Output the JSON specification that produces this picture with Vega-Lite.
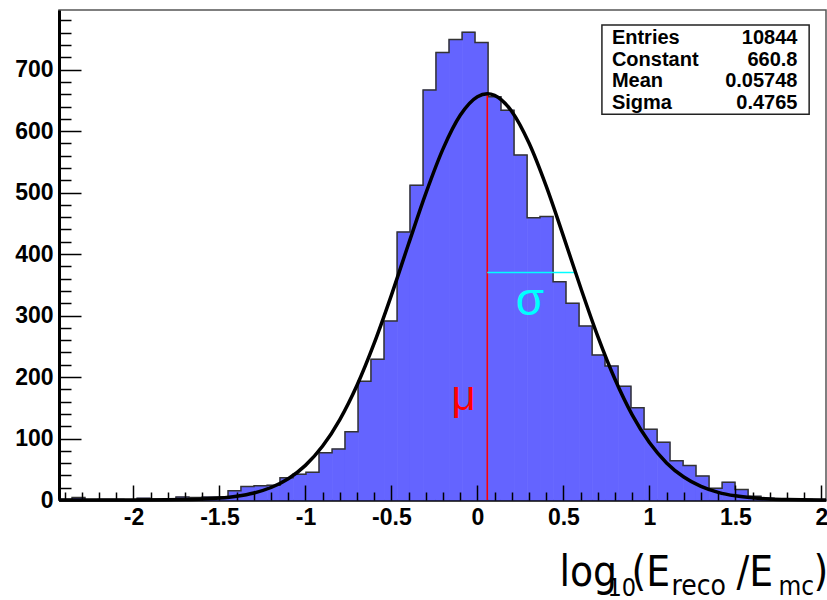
{
  "$schema": "https://vega.github.io/schema/vega-lite/v6.json",
  "width": 767,
  "height": 490,
  "autosize": {"type": "none"},
  "padding": {"left": 59, "top": 10, "right": 1, "bottom": 100},
  "background": "white",
  "config": {
    "view": {"stroke": "#555555", "strokeWidth": 1.5},
    "axis": {"grid": false, "domain": false, "ticks": false, "labels": false, "labelFont": "Liberation Sans", "labelFontWeight": "bold", "labelFontSize": 23, "labelColor": "black", "titleColor": "black", "titleFontWeight": "normal", "titleFont": "Liberation Sans Narrow, DejaVu Sans Condensed, Liberation Sans, sans-serif"}
  },
  "datasets": {
    "bins": [
      {"x0": -2.433, "x1": -2.357, "n": 1},
      {"x0": -2.357, "x1": -2.282, "n": 4},
      {"x0": -2.282, "x1": -2.206, "n": 0},
      {"x0": -2.206, "x1": -2.131, "n": 1},
      {"x0": -2.131, "x1": -2.055, "n": 1},
      {"x0": -2.055, "x1": -1.979, "n": 0},
      {"x0": -1.979, "x1": -1.904, "n": 3},
      {"x0": -1.904, "x1": -1.828, "n": 1},
      {"x0": -1.828, "x1": -1.753, "n": 2},
      {"x0": -1.753, "x1": -1.677, "n": 5},
      {"x0": -1.677, "x1": -1.601, "n": 4},
      {"x0": -1.601, "x1": -1.526, "n": 5},
      {"x0": -1.526, "x1": -1.450, "n": 5},
      {"x0": -1.450, "x1": -1.375, "n": 15},
      {"x0": -1.375, "x1": -1.299, "n": 22},
      {"x0": -1.299, "x1": -1.223, "n": 23},
      {"x0": -1.223, "x1": -1.148, "n": 24},
      {"x0": -1.148, "x1": -1.072, "n": 36},
      {"x0": -1.072, "x1": -0.997, "n": 42},
      {"x0": -0.997, "x1": -0.921, "n": 45},
      {"x0": -0.921, "x1": -0.845, "n": 77},
      {"x0": -0.845, "x1": -0.770, "n": 83},
      {"x0": -0.770, "x1": -0.694, "n": 111},
      {"x0": -0.694, "x1": -0.619, "n": 193},
      {"x0": -0.619, "x1": -0.543, "n": 229},
      {"x0": -0.543, "x1": -0.467, "n": 291},
      {"x0": -0.467, "x1": -0.392, "n": 436},
      {"x0": -0.392, "x1": -0.316, "n": 512},
      {"x0": -0.316, "x1": -0.241, "n": 667},
      {"x0": -0.241, "x1": -0.165, "n": 728},
      {"x0": -0.165, "x1": -0.089, "n": 749},
      {"x0": -0.089, "x1": -0.014, "n": 761},
      {"x0": -0.014, "x1": 0.062, "n": 744},
      {"x0": 0.062, "x1": 0.137, "n": 656},
      {"x0": 0.137, "x1": 0.213, "n": 634},
      {"x0": 0.213, "x1": 0.289, "n": 561},
      {"x0": 0.289, "x1": 0.364, "n": 459},
      {"x0": 0.364, "x1": 0.440, "n": 461},
      {"x0": 0.440, "x1": 0.515, "n": 355},
      {"x0": 0.515, "x1": 0.591, "n": 320},
      {"x0": 0.591, "x1": 0.667, "n": 283},
      {"x0": 0.667, "x1": 0.742, "n": 236},
      {"x0": 0.742, "x1": 0.818, "n": 218},
      {"x0": 0.818, "x1": 0.893, "n": 185},
      {"x0": 0.893, "x1": 0.969, "n": 150},
      {"x0": 0.969, "x1": 1.045, "n": 115},
      {"x0": 1.045, "x1": 1.120, "n": 94},
      {"x0": 1.120, "x1": 1.196, "n": 64},
      {"x0": 1.196, "x1": 1.271, "n": 56},
      {"x0": 1.271, "x1": 1.347, "n": 39},
      {"x0": 1.347, "x1": 1.423, "n": 19},
      {"x0": 1.423, "x1": 1.498, "n": 29},
      {"x0": 1.498, "x1": 1.574, "n": 17},
      {"x0": 1.574, "x1": 1.649, "n": 6},
      {"x0": 1.649, "x1": 1.725, "n": 3},
      {"x0": 1.725, "x1": 1.801, "n": 2},
      {"x0": 1.801, "x1": 1.876, "n": 1},
      {"x0": 1.876, "x1": 1.952, "n": 1},
      {"x0": 1.952, "x1": 2.027, "n": 1}
    ],
    "fit": [
      {"x": -2.433, "f": 0.0},
      {"x": -2.2, "f": 0.01},
      {"x": -2.0, "f": 0.06},
      {"x": -1.8, "f": 0.33},
      {"x": -1.7, "f": 0.74},
      {"x": -1.6, "f": 1.56},
      {"x": -1.5, "f": 3.17},
      {"x": -1.4, "f": 6.15},
      {"x": -1.3, "f": 11.42},
      {"x": -1.2, "f": 20.32},
      {"x": -1.1, "f": 34.59},
      {"x": -1.0, "f": 56.31},
      {"x": -0.9, "f": 87.76},
      {"x": -0.8, "f": 130.9},
      {"x": -0.7, "f": 186.7},
      {"x": -0.6, "f": 255.1},
      {"x": -0.5, "f": 333.3},
      {"x": -0.4, "f": 416.8},
      {"x": -0.3, "f": 498.7},
      {"x": -0.2, "f": 571.1},
      {"x": -0.1, "f": 625.7},
      {"x": 0.0, "f": 656.0},
      {"x": 0.0575, "f": 660.8},
      {"x": 0.1, "f": 658.2},
      {"x": 0.2, "f": 631.9},
      {"x": 0.3, "f": 580.5},
      {"x": 0.4, "f": 510.4},
      {"x": 0.5, "f": 429.3},
      {"x": 0.6, "f": 345.6},
      {"x": 0.7, "f": 266.2},
      {"x": 0.8, "f": 196.3},
      {"x": 0.9, "f": 138.4},
      {"x": 1.0, "f": 93.43},
      {"x": 1.1, "f": 60.34},
      {"x": 1.2, "f": 37.3},
      {"x": 1.3, "f": 22.06},
      {"x": 1.4, "f": 12.48},
      {"x": 1.5, "f": 6.76},
      {"x": 1.6, "f": 3.5},
      {"x": 1.7, "f": 1.74},
      {"x": 1.8, "f": 0.82},
      {"x": 2.0, "f": 0.16},
      {"x": 2.027, "f": 0.12}
    ]
  },
  "resolve": {"axis": {"x": "independent", "y": "independent"}},
  "layer": [
    {
      "data": {"name": "bins"},
      "mark": {"type": "rect", "color": "#6464ff", "stroke": "#6464ff", "strokeWidth": 0.6},
      "encoding": {
        "x": {"field": "x0", "type": "quantitative", "scale": {"domain": [-2.433, 2.027], "nice": false, "zero": false},
              "axis": {"orient": "bottom", "values": [-2, -1.5, -1, -0.5, 0, 0.5, 1, 1.5, 2], "labels": true, "labelExpr": "'' + datum.value", "labelPadding": 6, "labelFlush": false, "labelOverlap": false, "domain": true, "domainColor": "black", "domainWidth": 2.5, "title": null}},
        "x2": {"field": "x1"},
        "y": {"field": "n", "type": "quantitative", "scale": {"domain": [0, 797], "nice": false, "zero": true},
              "axis": {"orient": "left", "values": [0, 100, 200, 300, 400, 500, 600, 700], "labels": true, "labelPadding": 6, "labelFlush": false, "labelOverlap": false, "domain": true, "domainColor": "black", "domainWidth": 3, "title": null}},
        "y2": {"datum": 0}
      }
    },
    {
      "data": {"name": "bins"},
      "mark": {"type": "line", "interpolate": "step-after", "color": "#333333", "strokeWidth": 1.5},
      "encoding": {
        "x": {"field": "x0", "type": "quantitative", "scale": {"domain": [-2.433, 2.027], "nice": false, "zero": false},
              "axis": {"orient": "bottom", "values": [-2, -1.5, -1, -0.5, 0, 0.5, 1, 1.5, 2], "ticks": true, "tickSize": -15, "tickColor": "black", "tickWidth": 1.5, "zindex": 1, "title": null}},
        "y": {"field": "n", "type": "quantitative", "scale": {"domain": [0, 797], "nice": false},
              "axis": {"orient": "left", "values": [0, 100, 200, 300, 400, 500, 600, 700], "ticks": true, "tickSize": -22, "tickColor": "black", "tickWidth": 1.5, "zindex": 1, "title": null}}
      }
    },
    {
      "data": {"values": [{}]},
      "mark": {"type": "rule", "color": "#ff0000", "strokeWidth": 1.6, "opacity": 1, "strokeOpacity": 1},
      "encoding": {
        "x": {"datum": 0.05748, "type": "quantitative", "scale": {"domain": [-2.433, 2.027], "nice": false, "zero": false},
              "axis": {"orient": "bottom", "title": "log", "titleX": 500, "titleY": 85, "titleAlign": "left", "titleBaseline": "alphabetic", "titleAngle": 0, "titleFontSize": 42}},
        "y": {"datum": 0, "type": "quantitative", "scale": {"domain": [0, 797], "nice": false}, "axis": null},
        "y2": {"datum": 660.8}
      }
    },
    {
      "data": {"values": [{}]},
      "mark": {"type": "rule", "color": "#00ffff", "strokeWidth": 1.5, "opacity": 1},
      "encoding": {
        "x": {"datum": 0.05748, "type": "quantitative", "scale": {"domain": [-2.433, 2.027], "nice": false, "zero": false},
              "axis": {"orient": "bottom", "title": "10", "titleX": 548, "titleY": 95, "titleAlign": "left", "titleBaseline": "alphabetic", "titleAngle": 0, "titleFontSize": 25}},
        "x2": {"datum": 0.568},
        "y": {"datum": 370, "type": "quantitative", "scale": {"domain": [0, 797], "nice": false}, "axis": null}
      }
    },
    {
      "data": {"name": "fit"},
      "mark": {"type": "line", "interpolate": "monotone", "color": "black", "strokeWidth": 3.5},
      "encoding": {
        "x": {"field": "x", "type": "quantitative", "scale": {"domain": [-2.433, 2.027], "nice": false, "zero": false},
              "axis": {"orient": "bottom", "values": [-2.4, -2.3, -2.2, -2.1, -1.9, -1.8, -1.7, -1.6, -1.4, -1.3, -1.2, -1.1, -0.9, -0.8, -0.7, -0.6, -0.4, -0.3, -0.2, -0.1, 0.1, 0.2, 0.3, 0.4, 0.6, 0.7, 0.8, 0.9, 1.1, 1.2, 1.3, 1.4, 1.6, 1.7, 1.8, 1.9], "ticks": true, "tickSize": -8, "tickColor": "black", "tickWidth": 1.5, "zindex": 1, "title": null}},
        "y": {"field": "f", "type": "quantitative", "scale": {"domain": [0, 797], "nice": false},
              "axis": {"orient": "left", "values": [20, 40, 60, 80, 120, 140, 160, 180, 220, 240, 260, 280, 320, 340, 360, 380, 420, 440, 460, 480, 520, 540, 560, 580, 620, 640, 660, 680, 720, 740, 760, 780], "ticks": true, "tickSize": -12, "tickColor": "black", "tickWidth": 1.5, "zindex": 1, "title": null}}
      }
    },
    {
      "data": {"values": [{}]},
      "mark": {"type": "text", "text": "μ", "font": "Liberation Sans", "fontSize": 42, "color": "#ff0000", "align": "center", "baseline": "alphabetic"},
      "encoding": {
        "x": {"datum": -0.08, "type": "quantitative", "scale": {"domain": [-2.433, 2.027], "nice": false, "zero": false},
              "axis": {"orient": "bottom", "title": "(E", "titleX": 572, "titleY": 85, "titleAlign": "left", "titleBaseline": "alphabetic", "titleAngle": 0, "titleFontSize": 42}},
        "y": {"datum": 146, "type": "quantitative", "scale": {"domain": [0, 797], "nice": false}, "axis": null}
      }
    },
    {
      "data": {"values": [{}]},
      "mark": {"type": "text", "text": "σ", "font": "Liberation Sans", "fontSize": 46, "color": "#00ffff", "align": "center", "baseline": "alphabetic"},
      "encoding": {
        "x": {"datum": 0.305, "type": "quantitative", "scale": {"domain": [-2.433, 2.027], "nice": false, "zero": false},
              "axis": {"orient": "bottom", "title": "reco", "titleX": 612, "titleY": 94, "titleAlign": "left", "titleBaseline": "alphabetic", "titleAngle": 0, "titleFontSize": 28}},
        "y": {"datum": 301, "type": "quantitative", "scale": {"domain": [0, 797], "nice": false}, "axis": null}
      }
    },
    {
      "data": {"values": [{}]},
      "mark": {"type": "rect", "fill": "white", "stroke": "#222222", "strokeWidth": 1.5},
      "encoding": {
        "x": {"datum": 0.724, "type": "quantitative", "scale": {"domain": [-2.433, 2.027], "nice": false, "zero": false},
              "axis": {"orient": "bottom", "title": "/E", "titleX": 677, "titleY": 85, "titleAlign": "left", "titleBaseline": "alphabetic", "titleAngle": 0, "titleFontSize": 42}},
        "x2": {"datum": 1.929},
        "y": {"datum": 772.4, "type": "quantitative", "scale": {"domain": [0, 797], "nice": false}, "axis": null},
        "y2": {"datum": 627.6}
      }
    },
    {
      "data": {"values": [{}]},
      "mark": {"type": "text", "text": ["Entries", "Constant", "Mean", "Sigma"], "font": "Liberation Sans", "fontWeight": "bold", "fontSize": 20, "lineHeight": 21.7, "color": "black", "align": "left", "baseline": "alphabetic"},
      "encoding": {
        "x": {"datum": 0.782, "type": "quantitative", "scale": {"domain": [-2.433, 2.027], "nice": false, "zero": false},
              "axis": {"orient": "bottom", "title": "mc", "titleX": 719, "titleY": 94, "titleAlign": "left", "titleBaseline": "alphabetic", "titleAngle": 0, "titleFontSize": 26}},
        "y": {"datum": 742, "type": "quantitative", "scale": {"domain": [0, 797], "nice": false}, "axis": null}
      }
    },
    {
      "data": {"values": [{}]},
      "mark": {"type": "text", "text": ["10844", "660.8", "0.05748", "0.4765"], "font": "Liberation Sans", "fontWeight": "bold", "fontSize": 20, "lineHeight": 21.7, "color": "black", "align": "right", "baseline": "alphabetic"},
      "encoding": {
        "x": {"datum": 1.861, "type": "quantitative", "scale": {"domain": [-2.433, 2.027], "nice": false, "zero": false},
              "axis": {"orient": "bottom", "title": ")", "titleX": 754, "titleY": 85, "titleAlign": "left", "titleBaseline": "alphabetic", "titleAngle": 0, "titleFontSize": 42}},
        "y": {"datum": 742, "type": "quantitative", "scale": {"domain": [0, 797], "nice": false}, "axis": null}
      }
    }
  ]
}
